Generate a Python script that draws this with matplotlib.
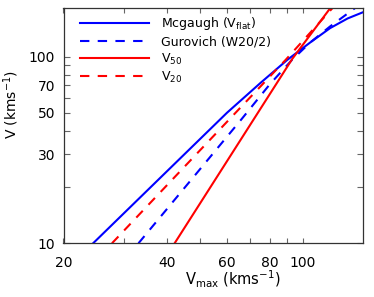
import numpy as np
import matplotlib.pyplot as plt
from matplotlib.ticker import FixedLocator, NullLocator

plt.rcParams['font.family'] = 'DejaVu Sans'
plt.rcParams['mathtext.default'] = 'regular'

# values (Vmax, V) in km/s
mcgaugh_vmax = [24.4, 60, 75, 90, 105, 120, 135, 150]
mcgaugh_v = [10, 50, 72, 96, 119, 142, 160, 173]

gurovich_vmax = [33.1, 66.3, 80, 92.9, 105, 120, 142]
gurovich_v = [10, 46.4, 71, 96, 119, 145, 182]

v50_vmax = [42.2, 93, 120.2]
v50_v = [10, 97, 182]

v20_vmax = [27.7, 89, 122]
v20_v = [10, 96, 182]

labels = ['Mcgaugh (V$_{flat}$)', 'Gurovich (W20/2)', 'V$_{50}$', 'V$_{20}$']

xticks = [20, 30, 40, 50, 60, 70, 80, 90, 100]
xlabeled = [20, 40, 60, 80, 100]
yticks = [10, 20, 30, 40, 50, 60, 70, 80, 90, 100]
ylabeled = [10, 30, 50, 70, 100]

fig = plt.figure(figsize=(3.74, 2.97), dpi=100)
ax = fig.add_axes([63.5/374, 1 - 243.3/297, 299.8/374, 235.3/297])

dash = (4.5, 4)
ax.plot(mcgaugh_vmax, mcgaugh_v, color='#0000ff', lw=1.5, label=labels[0])
ax.plot(gurovich_vmax, gurovich_v, color='#0000ff', lw=1.5, dashes=dash,
        label=labels[1])
ax.plot(v50_vmax, v50_v, color='#ff0000', lw=1.5, label=labels[2])
ax.plot(v20_vmax, v20_v, color='#ff0000', lw=1.5, dashes=dash,
        label=labels[3])

ax.set_xscale('log')
ax.set_yscale('log')
ax.set_xlim(20, 150)
ax.set_ylim(10, 182)

ax.xaxis.set_major_locator(FixedLocator(xticks))
ax.xaxis.set_minor_locator(NullLocator())
ax.set_xticklabels([str(t) if t in xlabeled else '' for t in xticks])
ax.yaxis.set_major_locator(FixedLocator(yticks))
ax.yaxis.set_minor_locator(NullLocator())
ax.set_yticklabels([str(t) if t in ylabeled else '' for t in yticks])

ax.tick_params(axis='x', which='both', direction='in', top=True, length=3.4,
               width=0.8, color='#666666', labelsize=10, pad=9)
ax.tick_params(axis='y', which='both', direction='in', right=True, length=4.3,
               width=0.8, color='#666666', labelsize=10, pad=6)
for s in ax.spines.values():
    s.set_color('#333333')
    s.set_linewidth(0.9)

ax.set_xlabel('V$_{max}$ (kms$^{-1}$)', fontsize=10.5)
ax.set_ylabel('V (kms$^{-1}$)', fontsize=10)
ax.xaxis.set_label_coords(0.565, -0.11)
ax.yaxis.set_label_coords(-0.142, 0.59)

ax.legend(loc='upper left', frameon=False, fontsize=9, handlelength=5.5,
          handletextpad=1.0, labelspacing=0.24, borderaxespad=0.2,
          bbox_to_anchor=(0.03, 1.0))

fig.savefig('out.png', dpi=100)
